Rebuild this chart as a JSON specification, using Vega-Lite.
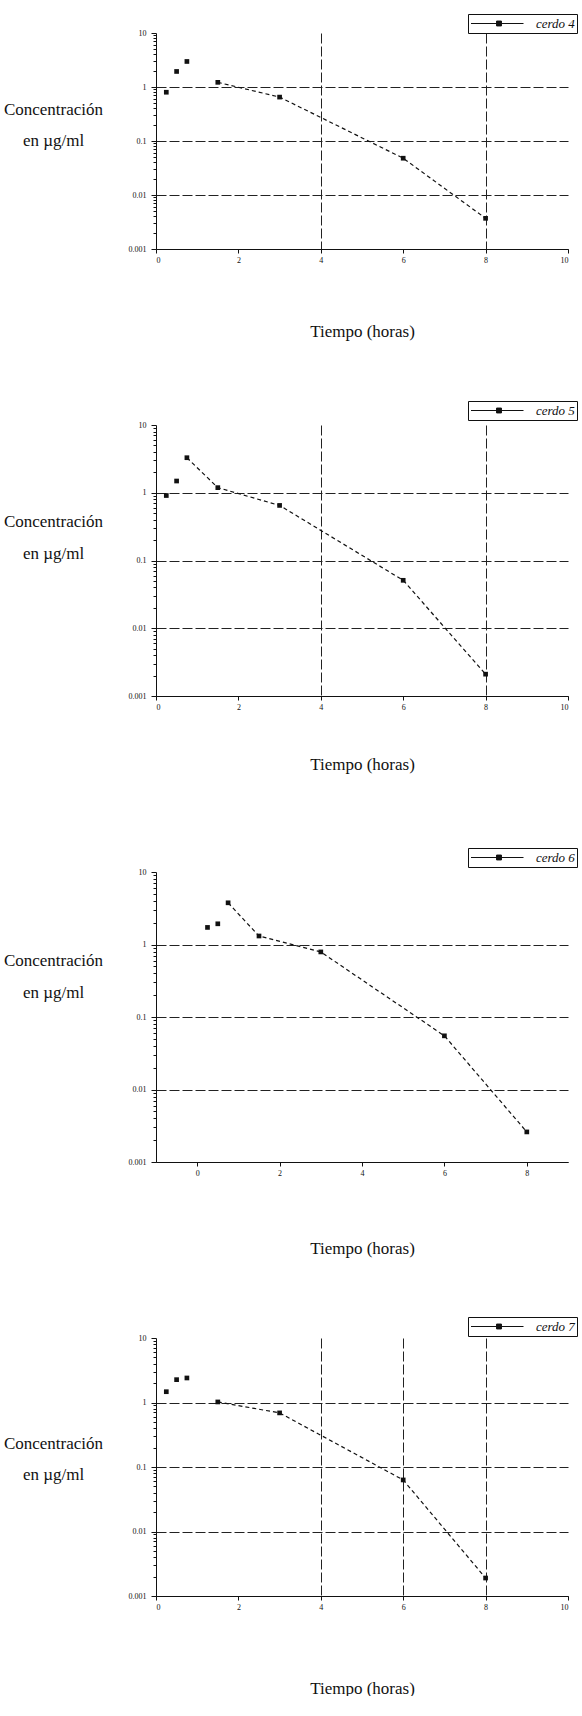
{
  "$schema": "https://vega.github.io/schema/vega-lite/v6.json",
  "padding": {"left": 3, "top": 13, "right": 0, "bottom": 0},
  "background": "white",
  "data": {"values": [
    {"cerdo": "cerdo 4", "t": 0.25, "c": 0.8},
    {"cerdo": "cerdo 4", "t": 0.5, "c": 1.94},
    {"cerdo": "cerdo 4", "t": 0.75, "c": 2.97},
    {"cerdo": "cerdo 4", "t": 1.5, "c": 1.22},
    {"cerdo": "cerdo 4", "t": 3, "c": 0.65},
    {"cerdo": "cerdo 4", "t": 6, "c": 0.048},
    {"cerdo": "cerdo 4", "t": 8, "c": 0.0037},
    {"cerdo": "cerdo 5", "t": 0.25, "c": 0.91},
    {"cerdo": "cerdo 5", "t": 0.5, "c": 1.49},
    {"cerdo": "cerdo 5", "t": 0.75, "c": 3.29},
    {"cerdo": "cerdo 5", "t": 1.5, "c": 1.19},
    {"cerdo": "cerdo 5", "t": 3, "c": 0.65},
    {"cerdo": "cerdo 5", "t": 6, "c": 0.051},
    {"cerdo": "cerdo 5", "t": 8, "c": 0.0021},
    {"cerdo": "cerdo 6", "t": 0.25, "c": 1.72},
    {"cerdo": "cerdo 6", "t": 0.5, "c": 1.93},
    {"cerdo": "cerdo 6", "t": 0.75, "c": 3.76},
    {"cerdo": "cerdo 6", "t": 1.5, "c": 1.31},
    {"cerdo": "cerdo 6", "t": 3, "c": 0.79},
    {"cerdo": "cerdo 6", "t": 6, "c": 0.055},
    {"cerdo": "cerdo 6", "t": 8, "c": 0.0026},
    {"cerdo": "cerdo 7", "t": 0.25, "c": 1.47},
    {"cerdo": "cerdo 7", "t": 0.5, "c": 2.26},
    {"cerdo": "cerdo 7", "t": 0.75, "c": 2.4},
    {"cerdo": "cerdo 7", "t": 1.5, "c": 1.02},
    {"cerdo": "cerdo 7", "t": 3, "c": 0.69},
    {"cerdo": "cerdo 7", "t": 6, "c": 0.063},
    {"cerdo": "cerdo 7", "t": 8, "c": 0.0019}
  ]},
  "config": {
    "font": "Liberation Serif",
    "view": {"stroke": null},
    "axis": {
      "domainColor": "#111", "tickColor": "#111", "labelColor": "#111", "titleColor": "#111",
      "gridColor": "#222", "gridDash": [10, 3], "gridWidth": 1, "tickWidth": 1,
      "labelFont": "Liberation Serif", "labelFontSize": 8,
      "titleFont": "Liberation Serif", "titleFontSize": 17, "titleFontWeight": "normal"
    },
    "legend": {
      "orient": "none", "title": null, "strokeColor": "#111", "padding": 2,
      "symbolType": "M-7.5,0L0,0M-3.85,-0.35L-3.15,-0.35L-3.15,0.35L-3.85,0.35Z",
      "symbolSize": 196, "symbolStrokeWidth": 1, "symbolOffset": 46, "labelOffset": 5,
      "labelFont": "Liberation Serif", "labelFontStyle": "italic", "labelFontSize": 13, "labelColor": "#111"
    }
  },
  "resolve": {"scale": {"color": "independent"}, "legend": {"color": "independent"}},
  "vconcat": [
    {
      "width": 412, "height": 216,
      "encoding": {
        "x": {"field": "t", "type": "quantitative", "scale": {"domain": [0, 10]},
          "axis": {"values": [0, 2, 4, 6, 8, 10], "tickSize": 4, "labelPadding": 3, "grid": true,
            "gridOpacity": {"condition": {"test": "datum.value == 4 || datum.value == 8", "value": 1}, "value": 0},
            "title": "Tiempo (horas)", "titleY": 82, "titleBaseline": "middle"}},
        "y": {"field": "c", "type": "quantitative", "scale": {"type": "log", "domain": [0.001, 10]},
          "axis": {"values": [0.001,0.002,0.003,0.004,0.005,0.006,0.007,0.008,0.009,0.01,0.02,0.03,0.04,0.05,0.06,0.07,0.08,0.09,0.1,0.2,0.3,0.4,0.5,0.6,0.7,0.8,0.9,1,2,3,4,5,6,7,8,9,10],
            "labelExpr": "abs(log(datum.value)/LN10 - round(log(datum.value)/LN10)) < 0.001 ? format(datum.value, '~g') : ''",
            "tickSize": {"condition": {"test": "abs(log(datum.value)/LN10 - round(log(datum.value)/LN10)) < 0.001", "value": 5}, "value": 3},
            "labelPadding": 5, "grid": true,
            "gridOpacity": {"condition": {"test": "abs(log(datum.value)/LN10 - round(log(datum.value)/LN10)) < 0.001 && datum.value < 5", "value": 1}, "value": 0},
            "title": ["Concentración", "en µg/ml"], "titleAngle": 0, "titleAlign": "center", "titleBaseline": "top",
            "titleX": -103, "titleY": 68, "titleLineHeight": 31}},
        "color": {"field": "cerdo", "type": "nominal", "scale": {"range": ["#111"]},
          "legend": {"legendX": 312, "legendY": -19}}
      },
      "layer": [
        {"transform": [{"filter": "datum.cerdo == 'cerdo 4' && datum.t >= 1.5"}],
          "mark": {"type": "line", "strokeDash": [4, 3], "strokeWidth": 1.2}},
        {"transform": [{"filter": "datum.cerdo == 'cerdo 4'"}],
          "mark": {"type": "point", "shape": "square", "filled": true, "size": 22, "opacity": 1}}
      ]
    },
    {
      "width": 412, "height": 271,
      "encoding": {
        "x": {"field": "t", "type": "quantitative", "scale": {"domain": [0, 10]},
          "axis": {"values": [0, 2, 4, 6, 8, 10], "tickSize": 4, "labelPadding": 3, "grid": true,
            "gridOpacity": {"condition": {"test": "datum.value == 4 || datum.value == 8", "value": 1}, "value": 0},
            "title": "Tiempo (horas)", "titleY": 68, "titleBaseline": "middle"}},
        "y": {"field": "c", "type": "quantitative", "scale": {"type": "log", "domain": [0.001, 10]},
          "axis": {"values": [0.001,0.002,0.003,0.004,0.005,0.006,0.007,0.008,0.009,0.01,0.02,0.03,0.04,0.05,0.06,0.07,0.08,0.09,0.1,0.2,0.3,0.4,0.5,0.6,0.7,0.8,0.9,1,2,3,4,5,6,7,8,9,10],
            "labelExpr": "abs(log(datum.value)/LN10 - round(log(datum.value)/LN10)) < 0.001 ? format(datum.value, '~g') : ''",
            "tickSize": {"condition": {"test": "abs(log(datum.value)/LN10 - round(log(datum.value)/LN10)) < 0.001", "value": 5}, "value": 3},
            "labelPadding": 5, "grid": true,
            "gridOpacity": {"condition": {"test": "abs(log(datum.value)/LN10 - round(log(datum.value)/LN10)) < 0.001 && datum.value < 5", "value": 1}, "value": 0},
            "title": ["Concentración", "en µg/ml"], "titleAngle": 0, "titleAlign": "center", "titleBaseline": "top",
            "titleX": -103, "titleY": 88, "titleLineHeight": 32}},
        "color": {"field": "cerdo", "type": "nominal", "scale": {"range": ["#111"]},
          "legend": {"legendX": 312, "legendY": -24}}
      },
      "layer": [
        {"transform": [{"filter": "datum.cerdo == 'cerdo 5' && datum.t >= 0.75"}],
          "mark": {"type": "line", "strokeDash": [4, 3], "strokeWidth": 1.2}},
        {"transform": [{"filter": "datum.cerdo == 'cerdo 5'"}],
          "mark": {"type": "point", "shape": "square", "filled": true, "size": 22, "opacity": 1}}
      ]
    },
    {
      "width": 412, "height": 290,
      "encoding": {
        "x": {"field": "t", "type": "quantitative", "scale": {"domain": [-1, 9]},
          "axis": {"values": [0, 2, 4, 6, 8], "tickSize": 4, "labelPadding": 3, "grid": false,
            "title": "Tiempo (horas)", "titleY": 86, "titleBaseline": "middle"}},
        "y": {"field": "c", "type": "quantitative", "scale": {"type": "log", "domain": [0.001, 10]},
          "axis": {"values": [0.001,0.002,0.003,0.004,0.005,0.006,0.007,0.008,0.009,0.01,0.02,0.03,0.04,0.05,0.06,0.07,0.08,0.09,0.1,0.2,0.3,0.4,0.5,0.6,0.7,0.8,0.9,1,2,3,4,5,6,7,8,9,10],
            "labelExpr": "abs(log(datum.value)/LN10 - round(log(datum.value)/LN10)) < 0.001 ? format(datum.value, '~g') : ''",
            "tickSize": {"condition": {"test": "abs(log(datum.value)/LN10 - round(log(datum.value)/LN10)) < 0.001", "value": 5}, "value": 3},
            "labelPadding": 5, "grid": true,
            "gridOpacity": {"condition": {"test": "abs(log(datum.value)/LN10 - round(log(datum.value)/LN10)) < 0.001 && datum.value < 5", "value": 1}, "value": 0},
            "title": ["Concentración", "en µg/ml"], "titleAngle": 0, "titleAlign": "center", "titleBaseline": "top",
            "titleX": -103, "titleY": 80, "titleLineHeight": 32}},
        "color": {"field": "cerdo", "type": "nominal", "scale": {"range": ["#111"]},
          "legend": {"legendX": 312, "legendY": -24}}
      },
      "layer": [
        {"transform": [{"filter": "datum.cerdo == 'cerdo 6' && datum.t >= 0.75"}],
          "mark": {"type": "line", "strokeDash": [4, 3], "strokeWidth": 1.2}},
        {"transform": [{"filter": "datum.cerdo == 'cerdo 6'"}],
          "mark": {"type": "point", "shape": "square", "filled": true, "size": 22, "opacity": 1}}
      ]
    },
    {
      "width": 412, "height": 258,
      "encoding": {
        "x": {"field": "t", "type": "quantitative", "scale": {"domain": [0, 10]},
          "axis": {"values": [0, 2, 4, 6, 8, 10], "tickSize": 4, "labelPadding": 3, "grid": true,
            "gridOpacity": {"condition": {"test": "datum.value == 4 || datum.value == 6 || datum.value == 8", "value": 1}, "value": 0},
            "title": "Tiempo (horas)", "titleY": 92, "titleBaseline": "middle"}},
        "y": {"field": "c", "type": "quantitative", "scale": {"type": "log", "domain": [0.001, 10]},
          "axis": {"values": [0.001,0.002,0.003,0.004,0.005,0.006,0.007,0.008,0.009,0.01,0.02,0.03,0.04,0.05,0.06,0.07,0.08,0.09,0.1,0.2,0.3,0.4,0.5,0.6,0.7,0.8,0.9,1,2,3,4,5,6,7,8,9,10],
            "labelExpr": "abs(log(datum.value)/LN10 - round(log(datum.value)/LN10)) < 0.001 ? format(datum.value, '~g') : ''",
            "tickSize": {"condition": {"test": "abs(log(datum.value)/LN10 - round(log(datum.value)/LN10)) < 0.001", "value": 5}, "value": 3},
            "labelPadding": 5, "grid": true,
            "gridOpacity": {"condition": {"test": "abs(log(datum.value)/LN10 - round(log(datum.value)/LN10)) < 0.001 && datum.value < 5", "value": 1}, "value": 0},
            "title": ["Concentración", "en µg/ml"], "titleAngle": 0, "titleAlign": "center", "titleBaseline": "top",
            "titleX": -103, "titleY": 97, "titleLineHeight": 31}},
        "color": {"field": "cerdo", "type": "nominal", "scale": {"range": ["#111"]},
          "legend": {"legendX": 312, "legendY": -21}}
      },
      "layer": [
        {"transform": [{"filter": "datum.cerdo == 'cerdo 7' && datum.t >= 1.5"}],
          "mark": {"type": "line", "strokeDash": [4, 3], "strokeWidth": 1.2}},
        {"transform": [{"filter": "datum.cerdo == 'cerdo 7'"}],
          "mark": {"type": "point", "shape": "square", "filled": true, "size": 22, "opacity": 1}}
      ]
    }
  ],
  "spacing": 176,
  "bounds": "flush"
}
